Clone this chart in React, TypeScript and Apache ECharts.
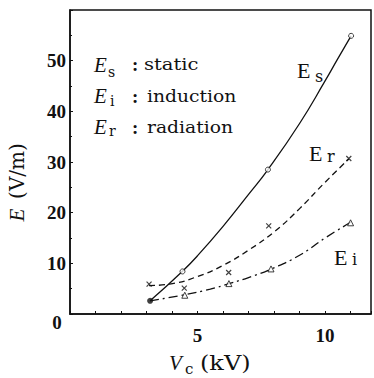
import React, { useEffect, useRef } from "react";
import * as echarts from "echarts";

// Measured markers
const startPoint: number[][] = [[3.14, 2.6]];
const esPoints: number[][] = [[4.41, 8.4], [7.76, 28.5], [11.02, 54.9]];
const erPoints: number[][] = [[3.1, 5.9], [4.48, 5.1], [6.22, 8.2], [7.79, 17.4], [10.93, 30.7]];
const eiPoints: number[][] = [[4.5, 3.7], [6.23, 6.0], [7.88, 8.9], [11.0, 18.0]];

// Fitted curves
const esCurve: number[][] = [[3.14, 2.6], [4.4, 8.4], [5, 11.5], [6, 17.3], [7, 23.6], [7.76, 28.5], [9, 37.6], [10, 46], [10.5, 50.4], [11.02, 54.9]];
const erCurve: number[][] = [[3.1, 5.6], [3.9, 5.9], [5, 7.4], [6, 9.6], [7, 12.6], [8, 16.2], [9, 20.8], [10, 26], [10.93, 30.6]];
const eiCurve: number[][] = [[3.14, 2.6], [4.5, 3.8], [5.5, 4.9], [6.3, 6.1], [7, 7.2], [7.9, 8.9], [9, 11.6], [10, 15.0], [11, 18.1]];

const xTickLabels = [5, 10];
const yTickLabels = [10, 20, 30, 40, 50];

const X_MIN = 0, X_MAX = 11.8, Y_MIN = 0, Y_MAX = 60;

const SERIF = "'Liberation Serif', 'DejaVu Serif', serif";
const SERIF2 = "'DejaVu Serif', serif";
const INK = "#111";

export default function App() {
  const ref = useRef<HTMLDivElement>(null);
  useEffect(() => {
    if (!ref.current) return;
    const chart = echarts.init(ref.current, null, { renderer: "svg" });
    const txt = (text: string, x: number, y: number, font: string, align = "left", rotation = 0, scaleX = 1) => ({
      type: "text",
      x, y, rotation, scaleX,
      style: { text, font, fill: INK, align, verticalAlign: "middle", textAlign: align, textVerticalAlign: "middle" },
    });
    const xMark = "path://M0 0L10 10M10 0L0 10";
    chart.setOption({
      animation: false,
      grid: { left: 70, right: 1, top: 10, bottom: 64, show: true, borderColor: INK, borderWidth: 1.5 },
      xAxis: {
        type: "value", min: X_MIN, max: X_MAX, interval: 1,
        axisLine: { lineStyle: { color: INK, width: 1.5 } },
        axisTick: { inside: true, length: 3, lineStyle: { color: INK } },
        splitLine: { show: false },
        axisLabel: {
          margin: 12, color: INK, fontFamily: SERIF, fontWeight: "bold", fontSize: 19,
          formatter: (v: number) => (xTickLabels.includes(v) ? String(v) : ""),
        },
      },
      yAxis: {
        type: "value", min: Y_MIN, max: Y_MAX, interval: 10,
        axisLine: { lineStyle: { color: INK, width: 1.5 } },
        axisTick: { inside: true, length: 3, lineStyle: { color: INK } },
        minorTick: { show: true, splitNumber: 2, length: 2, lineStyle: { color: INK } },
        splitLine: { show: false },
        axisLabel: {
          margin: 4, color: INK, fontFamily: SERIF, fontWeight: "bold", fontSize: 19,
          formatter: (v: number) => (yTickLabels.includes(v) ? String(v) : ""),
        },
      },
      series: [
        { type: "line", data: esCurve, smooth: true, showSymbol: false, lineStyle: { color: INK, width: 1.3 } },
        { type: "line", data: erCurve, smooth: true, showSymbol: false, lineStyle: { color: INK, width: 1.3, type: [6, 4] } },
        { type: "line", data: eiCurve, smooth: true, showSymbol: false, lineStyle: { color: INK, width: 1.3, type: [9, 4, 2, 4] } },
        { type: "scatter", data: esPoints, symbol: "circle", symbolSize: 5, itemStyle: { color: "#fff", borderColor: INK, borderWidth: 1 }, z: 5 },
        { type: "scatter", data: startPoint, symbol: "circle", symbolSize: 6, itemStyle: { color: INK }, z: 5 },
        { type: "scatter", data: erPoints, symbol: xMark, symbolSize: 5, itemStyle: { color: "none", borderColor: INK, borderWidth: 1.2 }, z: 5 },
        { type: "scatter", data: eiPoints, symbol: "triangle", symbolSize: 6, itemStyle: { color: "#fff", borderColor: INK, borderWidth: 1 }, z: 5 },
      ],
      graphic: [
        // legend block
        txt("E", 94, 65, `italic 21px ${SERIF}`),
        txt("s", 108, 72, `14px ${SERIF2}`),
        txt(":", 132, 64, `bold 19px ${SERIF}`),
        txt("static", 144, 64, `17px ${SERIF2}`, "left", 0, 1.15),
        txt("E", 94, 96, `italic 21px ${SERIF}`),
        txt("i", 110, 101, `14px ${SERIF2}`),
        txt(":", 132, 96, `bold 19px ${SERIF}`),
        txt("induction", 147, 96, `17px ${SERIF2}`, "left", 0, 1.1),
        txt("E", 94, 127, `italic 21px ${SERIF}`),
        txt("r", 109, 131, `14px ${SERIF2}`),
        txt(":", 132, 127, `bold 19px ${SERIF}`),
        txt("radiation", 147, 127, `17px ${SERIF2}`, "left", 0, 1.1),
        // curve labels
        txt("E", 297, 70, `22px ${SERIF}`),
        txt("s", 315, 76, `16px ${SERIF2}`),
        txt("E", 309, 153, `22px ${SERIF}`),
        txt("r", 327, 156, `16px ${SERIF2}`),
        txt("E", 334, 257, `22px ${SERIF}`),
        txt("i", 352, 259, `16px ${SERIF2}`),
        // origin label
        txt("0", 57, 322, `bold 19px ${SERIF}`, "center"),
        // axis names
        txt("V", 169, 363, `italic 21px ${SERIF}`),
        txt("c", 185, 369, `15px ${SERIF2}`),
        txt("(kV)", 200, 363, `20px ${SERIF2}`, "left", 0, 1.2),
        txt("E", 17, 215, `italic 21px ${SERIF}`, "center", Math.PI / 2),
        txt("(V/m)", 17, 171, `20px ${SERIF2}`, "center", Math.PI / 2),
      ],
    });
    return () => chart.dispose();
  }, []);
  return <div ref={ref} style={{ width: 374, height: 378, position: "absolute", left: 0, top: 0 }} />;
}
